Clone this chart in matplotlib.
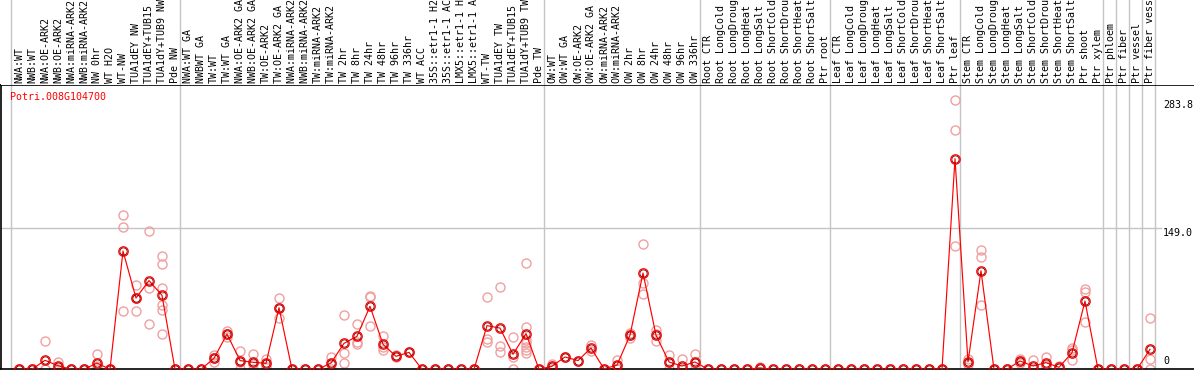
import matplotlib.pyplot as plt

# sample names, one column each
samples = [
    "NWA:WT", "NWB:WT", "NWA:OE-ARK2", "NWB:OE-ARK2", "NWA:miRNA-ARK2", "NWB:miRNA-ARK2",
    "NW 0hr", "WT H2O", "WT-NW", "TUA1dEY NW", "TUA1dEY+TUB15 NW", "TUA1dY+TUB9 NW", "Pde NW",
    "NWA:WT GA", "NWBWT GA", "TW:WT", "TW:WT GA", "NWA:OE-ARK2 GA", "NWB:OE-ARK2 GA",
    "TW:OE-ARK2", "TW:OE-ARK2 GA", "NWA:miRNA-ARK2 GA", "NWB:miRNA-ARK2 GA", "TW:miRNA-ARK2",
    "TW:miRNA-ARK2 GA", "TW 2hr", "TW 8hr", "TW 24hr", "TW 48hr", "TW 96hr", "TW 336hr",
    "WT ACC", "35S::etr1-1 H2O", "35S::etr1-1 ACC", "LMX5::etr1-1 H2O", "LMX5::etr1-1 ACC",
    "WT-TW", "TUA1dEY TW", "TUA1dEY+TUB15 TW", "TUA1dY+TUB9 TW", "Pde TW",
    "OW:WT", "OW:WT GA", "OW:OE-ARK2", "OW:OE-ARK2 GA", "OW:miRNA-ARK2", "OW:miRNA-ARK2 GA",
    "OW 2hr", "OW 8hr", "OW 24hr", "OW 48hr", "OW 96hr", "OW 336hr",
    "Root CTR", "Root LongCold", "Root LongDrought", "Root LongHeat", "Root LongSalt",
    "Root ShortCold", "Root ShortDrought", "Root ShortHeat", "Root ShortSalt", "Ptr root",
    "Leaf CTR", "Leaf LongCold", "Leaf LongDrought", "Leaf LongHeat", "Leaf LongSalt",
    "Leaf ShortCold", "Leaf ShortDrought", "Leaf ShortHeat", "Leaf ShortSalt", "Ptr leaf",
    "Stem CTR", "Stem LongCold", "Stem LongDrought", "Stem LongHeat", "Stem LongSalt",
    "Stem ShortCold", "Stem ShortDrought", "Stem ShortHeat", "Stem ShortSalt",
    "Ptr shoot", "Ptr xylem", "Ptr phloem", "Ptr fiber", "Ptr vessel", "Ptr fiber vessel",
]

# mean expression per sample
means = [
    0, 0, 9.5, 3.8, 0, 0, 6.6, 0, 124.8, 75.2, 93.6, 78.0, 0,
    0, 0, 11.6, 37.2, 9.2, 7.4, 6.3, 65.0, 0, 0, 0, 6.6, 27.4, 34.8, 66.5, 26.4, 13.7, 17.9,
    0, 0, 0, 0, 0, 46.1, 43.5, 15.8, 37.7, 0,
    3.2, 13.0, 9.2, 22.5, 0.5, 4.4, 36.0, 101.6, 36.0, 7.7, 3.5, 7.7,
    0, 0, 0, 0, 1.5, 0, 0, 0, 0, 0,
    0, 0, 0, 0, 0, 0, 0, 0, 0, 222.3,
    7.7, 104.0, 0, 0, 8.8, 3.5, 7.0, 2.1, 17.5, 72.0, 0, 0, 0, 0, 21.1,
]

# individual replicates per sample
replicates = [
    [0, 0, 0], [0, 0], [30, 0, 0], [7.4, 2, 0], [0, 0], [0, 0], [16, 4, 0], [0, 0],
    [162.7, 149.7, 61.5], [88.9, 61.5, 75], [146.4, 86, 48.2],
    [119.5, 110.7, 85.4, 67.5, 62.2, 37.2], [0],
    [0], [0], [15, 8, 12], [40.7, 33.7, 37], [19.7, 8, 0], [16, 6, 0], [10.5, 2.7, 6],
    [75.6, 54.5, 65], [0], [0], [0], [13.3, 6, 0], [57, 17.6, 7], [47.8, 26.4, 29],
    [77.7, 76, 46.1], [35.1, 20.4, 24], [12.5, 15], [17.9],
    [0], [0], [0], [0], [0], [76.7, 31.5, 29], [87.3, 24.6, 17.9], [34, 13, 0],
    [112.5, 44.9, 30.5, 27.5, 24, 20, 16.8], [0],
    [6, 2, 0], [13], [9], [25.5, 19.5], [0], [9.8, 3, 0], [37.8, 33.5, 36.7],
    [132, 91.5, 79.5], [41.5, 29.6, 36.9], [14.8, 8, 0], [10.9, 0, 0], [15.8, 7, 0],
    [0], [0], [0], [0], [2.5, 1, 1], [0], [0], [0], [0], [0],
    [0], [0], [0], [0], [0], [0], [0], [0], [0], [283.8, 252, 130],
    [11.3, 6, 6], [125.8, 119, 67.8], [0], [0], [11, 6.5, 9], [9.8, 0.7, 0], [12.6, 4.6, 4],
    [3.4, 1.5], [22.5, 20.4, 9.6], [84.4, 81.2, 49.5], [0], [0], [0], [0], [54, 11.3, 0],
]

gene = "Potri.008G104700"
y_ticks = [0, 149.0, 283.8]
group_edges = [-0.5, 12.5, 40.5, 52.5, 62.5, 72.5, 83.5, 84.5, 85.5, 86.5, 87.5]

W, H = 1194, 370
FONT = dict(family="DejaVu Sans Mono", size=7.2)
GRAY = "#c4c4c4"

# column i sits at pixel 19 + 13 * i
x0, x1 = (1 - 19) / 13, (W - 19) / 13
xs = list(range(len(samples)))

fig = plt.figure(figsize=(W / 100, H / 100), dpi=100)
ax = fig.add_axes([1 / W, 0.7 / H, (W - 1) / W, 284.3 / H])
hx = fig.add_axes([1 / W, (H - 85) / H, (W - 1) / W, 85 / H])

for a in (ax, hx):
    a.set_xlim(x0, x1)
    a.set_xticks([])
    a.set_yticks([])
    for e in group_edges:
        a.axvline(e - 0.1, color=GRAY, lw=1.0, zorder=0)
for s in hx.spines.values():
    s.set_visible(False)
hx.set_ylim(0, 1)

ax.set_ylim(0, 300)
ax.spines["right"].set_visible(False)
for s in ("left", "top", "bottom"):
    ax.spines[s].set_linewidth(1.2)

# header labels (long ones run off the top, as in the original)
for i, name in enumerate(samples):
    hx.text(i, 2 / 85, name, rotation=90, ha="center", va="bottom", color="black", **FONT)

# grid line at middle tick and right-hand value labels
ax.plot([x0, (1161 - 19) / 13], [y_ticks[1], y_ticks[1]], color=GRAY, lw=1.0, zorder=0,
        clip_on=False)
tx = (1163 - 19) / 13
ax.text(tx, y_ticks[2], f"{y_ticks[2]:.1f}", ha="left", va="top", clip_on=False, **FONT)
ax.text(tx, y_ticks[1], f"{y_ticks[1]:.1f}", ha="left", va="top", clip_on=False, **FONT)
ax.text(tx, 3, "0", ha="left", va="bottom", clip_on=False, **FONT)

fig.text(10 / W, 1 - 97 / H, gene, color="red", ha="left", va="center", **FONT)

# replicates
rx, ry = [], []
for i, reps in enumerate(replicates):
    for r in reps:
        rx.append(i)
        ry.append(r)
ax.plot(rx, ry, "o", ls="none", ms=6.5, mfc="none", mec="#f0a0a0", mew=1.0, zorder=2)

# mean line
ax.plot(xs, means, "-", color="red", lw=0.85, zorder=3)
ax.plot(xs, means, "o", ls="none", ms=6.8, mfc="none", mec="red", mew=0.9, zorder=4)
ax.plot(xs, means, "o", ls="none", ms=5.2, mfc="none", mec="#7a0000", mew=0.6, zorder=5)

fig.savefig("out.png", dpi=100)
